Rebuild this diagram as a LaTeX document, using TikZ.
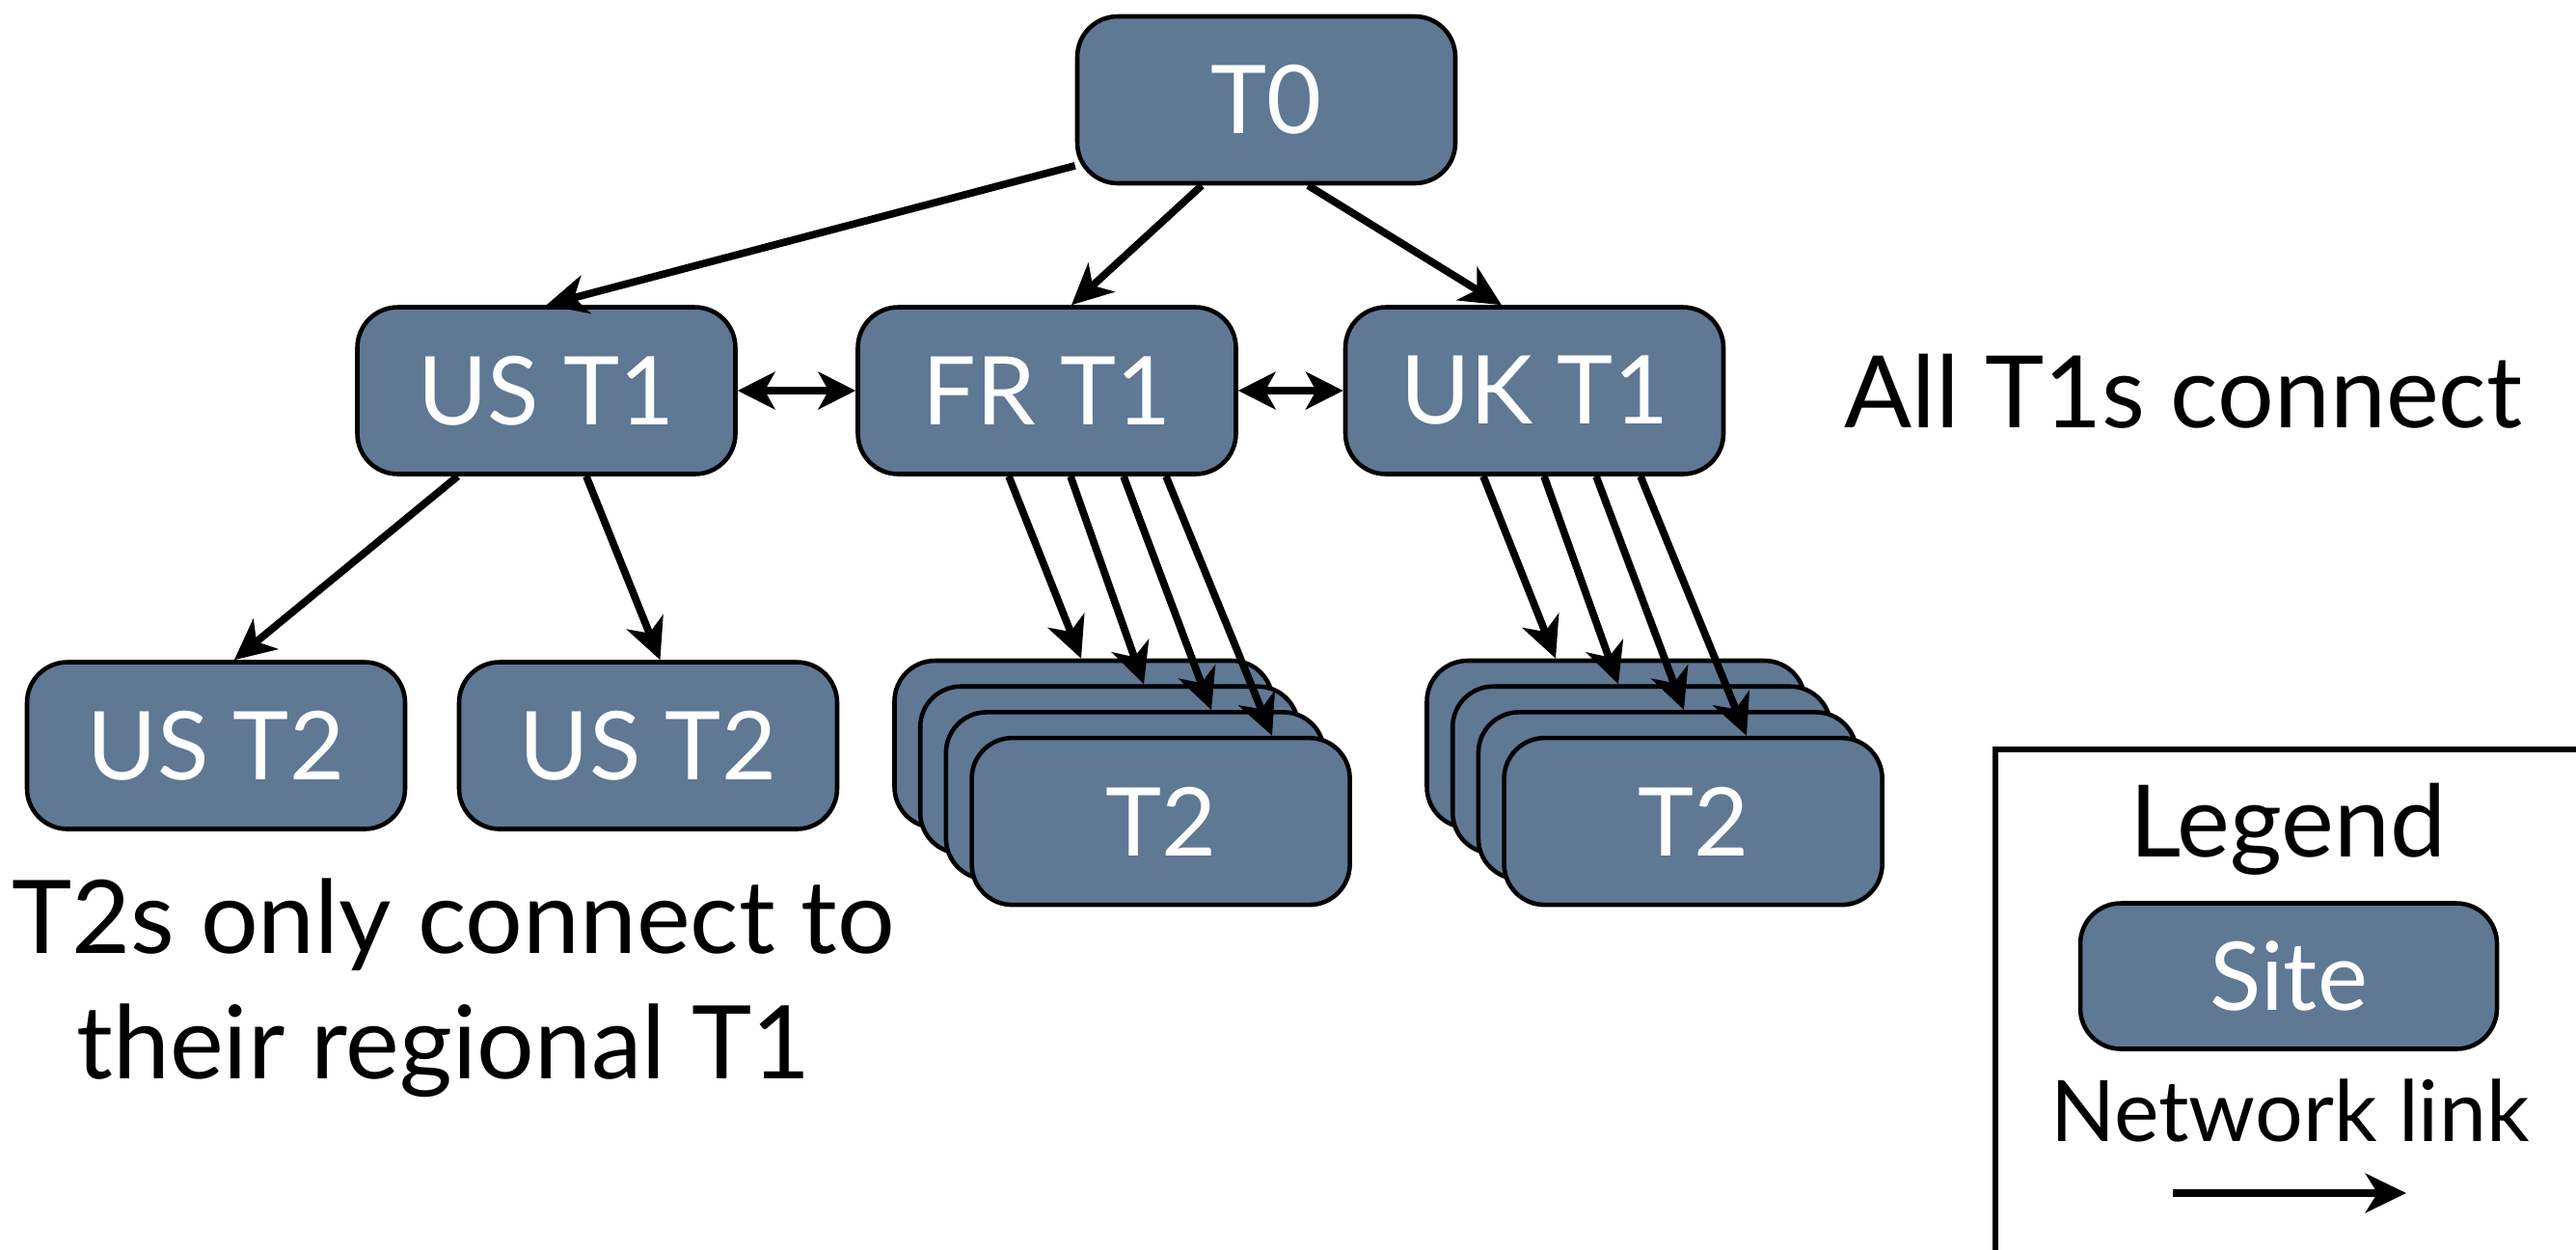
\documentclass[tikz,border=0pt]{standalone}
\usepackage{fontspec}
\setmainfont{Lato}
\usetikzlibrary{calc}
\usetikzlibrary{arrows.meta}
\definecolor{bleuSite}{RGB}{95,120,148}
\tikzstyle{site}  =[draw=black, line width=1.3pt, fill=bleuSite, rounded corners=0.42cm, minimum width=3.92cm, minimum height=1.73cm, inner sep=0pt, text=white, font=\fontsize{28}{34}\selectfont]
\tikzstyle{lien}  =[line width=2.2pt, -{Stealth[length=12pt,width=11.5pt,inset=3.5pt]}]
\tikzstyle{lienD} =[line width=2.2pt, {Stealth[length=11pt,width=11pt,inset=3pt]}-{Stealth[length=11pt,width=11pt,inset=3pt]}]
\tikzstyle{texte} =[anchor=base, inner sep=0pt, font=\fontsize{30}{36}\selectfont]

\begin{document}
\begin{tikzpicture}

\useasboundingbox (0,0) rectangle (26.71,-12.95);

%%%%%%%%%%%%%%%%%%%%%%%%
%Les sites T0 et T1
%%%%%%%%%%%%%%%%%%%%%%%%

\node[site] (T0) at (13.13,-1.035) {T0};
\node[site] (UST1) at (5.665,-4.05) {US T1};
\node[site] (FRT1) at (10.855,-4.05) {FR T1};
\node[site] (UKT1) at (15.91,-4.05) {UK T1};

%%%%%%%%%%%%%%%%%%%%%%%%
%Les sites T2
%%%%%%%%%%%%%%%%%%%%%%%%

\node[site] (UST2a) at (2.24,-7.73) {US T2};
\node[site] (UST2b) at (6.72,-7.73) {US T2};

\def \decal {0.267} %décalage entre les sites empilés
%pile FR
\foreach \i in {0,1,2}{\node[site] (fr\i) at (11.235+\decal*\i,-7.715-\decal*\i) {};}
\node[site] (fr3) at (11.235+\decal*3,-7.715-\decal*3) {T2};
%pile UK
\foreach \i in {0,1,2}{\node[site] (uk\i) at (16.755+\decal*\i,-7.715-\decal*\i) {};}
\node[site] (uk3) at (16.755+\decal*3,-7.715-\decal*3) {T2};

%%%%%%%%%%%%%%%%%%%%%%%%
%Les liens
%%%%%%%%%%%%%%%%%%%%%%%%

\draw[lien] (T0.199) -- (UST1.north);
\draw[lien] (T0.233) -- (FRT1.74);
\draw[lien] (T0.296) -- (UKT1.111);
\draw[lienD] (UST1.east) -- (FRT1.west);
\draw[lienD] (FRT1.east) -- (UKT1.west);
\draw[lien] (UST1.224) -- (UST2a.78);
\draw[lien] (UST1.295) -- (UST2b.82);

\foreach \i/\a/\b in {0/-0.395/-0.025,1/0.245/0.358,2/0.795/0.791,3/1.235/1.154}
{\draw[lien] ($(FRT1.south)+(\a,0)$) -- ($(fr\i.north)+(\b,0)$);}
\foreach \i/\a/\b in {0/-0.53/-0.625,1/0.10/-0.242,2/0.64/0.171,3/1.10/0.554}
{\draw[lien] ($(UKT1.south)+(\a,0)$) -- ($(uk\i.north)+(\b,0)$);}

%%%%%%%%%%%%%%%%%%%%%%%%
%Les textes
%%%%%%%%%%%%%%%%%%%%%%%%

\node[texte, font=\fontsize{29.5}{35}\selectfont] (tousT1) at (22.64,-4.43) {All T1s connect};
\node[texte] (texteT2a) at (4.70,-9.88) {T2s only connect to};
\node[texte] (texteT2b) at (4.60,-11.18) {their regional T1};

%%%%%%%%%%%%%%%%%%%%%%%%
%Légende
%%%%%%%%%%%%%%%%%%%%%%%%

\draw[line width=1.5pt] (26.8,-7.77) -- (20.69,-7.77) -- (20.69,-13.1);
\node[texte, font=\fontsize{29.5}{35}\selectfont] (legende) at (23.72,-8.88) {Legend};
\node[site, minimum width=4.32cm, minimum height=1.51cm] (siteL) at (23.73,-10.12) {Site};
\node[texte, font=\fontsize{25}{30}\selectfont] (reseau) at (23.745,-11.83) {Network link};
\coordinate (lienA) at (22.53,-12.37);
\coordinate (lienB) at (24.95,-12.37);
\draw[lien] (lienA) -- (lienB);

\end{tikzpicture}
\end{document}
